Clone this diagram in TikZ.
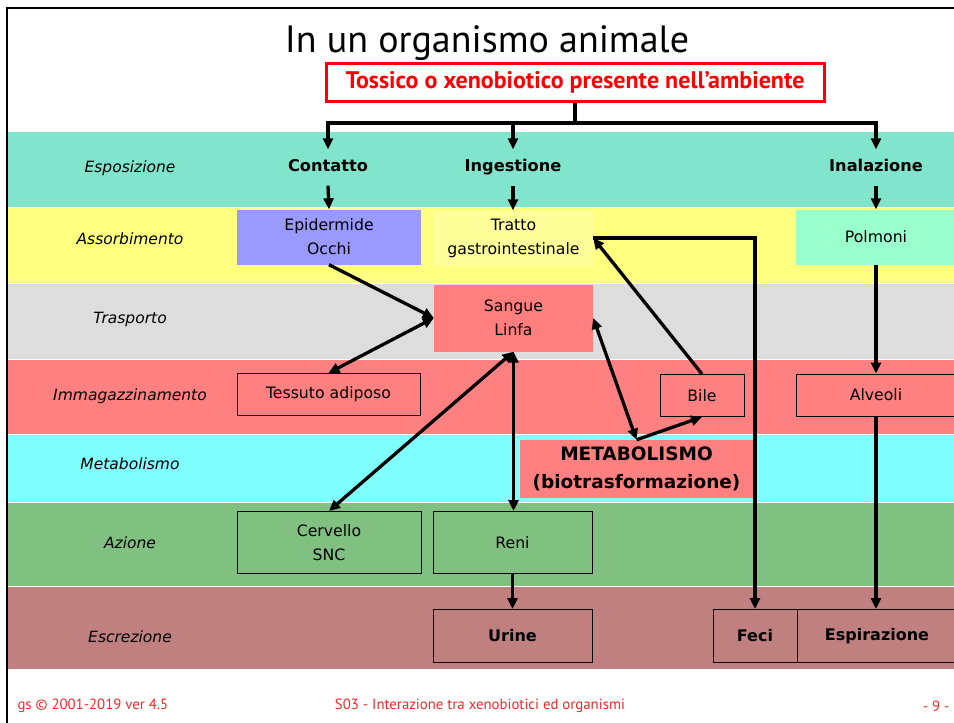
\documentclass[tikz,border=0pt]{standalone}
\usepackage{fontspec}
\setmainfont{DejaVu Sans}
\newfontfamily\narrowsans{PT Sans}
\usetikzlibrary{arrows.meta}

% band colours
\definecolor{cEsp}{RGB}{128,229,204}
\definecolor{cAss}{RGB}{255,255,128}
\definecolor{cTra}{RGB}{221,221,221}
\definecolor{cImm}{RGB}{255,128,128}
\definecolor{cMet}{RGB}{128,255,255}
\definecolor{cAzi}{RGB}{128,192,128}
\definecolor{cEsc}{RGB}{192,128,128}
% box colours
\definecolor{cEpi}{RGB}{153,153,255}
\definecolor{cGas}{RGB}{255,255,153}
\definecolor{cPol}{RGB}{153,255,204}
\definecolor{cSan}{RGB}{255,126,126}
\definecolor{cFoot}{RGB}{240,40,40}

\begin{document}
\begin{tikzpicture}[x=1pt,y=-1pt,
  band/.style={fill=#1, draw=none},
  phase/.style={font=\fontsize{15.5}{18}\selectfont\itshape, anchor=center},
  route/.style={font=\fontsize{16.2}{18}\selectfont\bfseries, minimum height=36pt, inner sep=0pt,
                text height=12pt, text depth=3.5pt},
  plain/.style={font=\fontsize{15.7}{24}\selectfont, align=center, inner sep=0pt},
  flat/.style={plain, draw=none},
  framed/.style={plain, draw=black, line width=1pt},
  boldframed/.style={framed, font=\fontsize{16}{24}\selectfont\bfseries},
  conn/.style={line width=3.3pt, -{Triangle[length=11pt,width=10pt]}},
  biconn/.style={line width=3.3pt, {Triangle[length=11pt,width=10pt]}-{Triangle[length=11pt,width=10pt]}},
  bus/.style={line width=3.3pt},
  foot/.style={font=\narrowsans\fontsize{14.8}{17}\selectfont, text=cFoot}
]
\useasboundingbox (0,0) rectangle (954,723);
\clip (0,0) rectangle (954,723);

% horizontal bands
\fill[band=cEsp] (8,132) rectangle (954,207);
\fill[band=cAss] (8,208) rectangle (954,283);
\fill[band=cTra] (8,284) rectangle (954,359);
\fill[band=cImm] (8,360) rectangle (954,434);
\fill[band=cMet] (8,435) rectangle (954,502);
\fill[band=cAzi] (8,503) rectangle (954,586);
\fill[band=cEsc] (8,587) rectangle (954,669);

% slide frame
\draw[line width=2.4pt] (7,723) -- (7,8) -- (960,8);

% title
\node (title) at (487,43) {\narrowsans\fontsize{38}{44}\selectfont In un organismo animale};

% source box
\node[draw=red, line width=3pt, minimum width=498pt, minimum height=38pt, inner sep=0pt,
      text=red, font=\narrowsans\bfseries\fontsize{24}{26}\selectfont] (tox) at (575,82)
  {Tossico o xenobiotico presente nell’ambiente};

% phase labels
\node[phase] (lEsp) at (130,168) {Esposizione};
\node[phase] (lAss) at (130,239) {Assorbimento};
\node[phase] (lTra) at (130,319) {Trasporto};
\node[phase] (lImm) at (130,396) {Immagazzinamento};
\node[phase] (lMet) at (130,464) {Metabolismo};
\node[phase] (lAzi) at (130,543) {Azione};
\node[phase] (lEsc) at (130,637) {Escrezione};

% exposure routes
\node[route] (contatto) at (328,167.5) {Contatto};
\node[route] (ingestione) at (513,167.5) {Ingestione};
\node[route] (inalazione) at (876,167.5) {Inalazione};

% absorption
\node[flat, fill=cEpi, minimum width=184pt, minimum height=55pt] (epi) at (329,237) {Epidermide\\Occhi};
\node[flat, fill=cGas, minimum width=159pt, minimum height=55pt] (gas) at (513.5,238) {Tratto\\gastrointestinale};
\node[flat, fill=cPol, minimum width=160pt, minimum height=55pt] (pol) at (876,237) {Polmoni};

% transport
\node[flat, fill=cSan, minimum width=159pt, minimum height=67pt] (san) at (513.5,318) {Sangue\\Linfa};

% storage
\node[framed, fill=cImm, minimum width=183pt, minimum height=42pt] (adi) at (328.5,394.5) {Tessuto adiposo};
\node[framed, fill=cImm, minimum width=84pt, minimum height=42pt] (bile) at (702,395.5) {Bile};
\node[framed, fill=cImm, minimum width=160pt, minimum height=42pt] (alv) at (876,395) {Alveoli};

% metabolism
\node[flat, fill=cImm, minimum width=233pt, minimum height=58pt,
      font=\fontsize{18.5}{28}\selectfont\bfseries] (met) at (636.5,469) {METABOLISMO\\(biotrasformazione)};

% action
\node[framed, fill=cAzi, minimum width=184pt, minimum height=62pt] (snc) at (329,542.5) {Cervello\\SNC};
\node[framed, fill=cAzi, minimum width=159pt, minimum height=62pt] (reni) at (512.5,542.5) {Reni};

% excretion
\node[boldframed, fill=cEsc, minimum width=159pt, minimum height=53pt] (urine) at (512.5,636) {Urine};
\node[boldframed, fill=cEsc, minimum width=84pt, minimum height=53pt] (feci) at (755,636) {Feci};
\node[boldframed, fill=cEsc, minimum width=160pt, minimum height=53pt] (espi) at (877,636) {Espirazione};

% distribution bus from the source
\coordinate (busc) at (575,123);
\draw[bus] (tox.south) -- (busc);
\draw[conn] (busc) -| (contatto.north);
\draw[conn] (busc) -| (ingestione.north);
\draw[conn] (busc) -| (inalazione.north);

% routes into the absorption sites
\draw[conn] (contatto.south) -- (epi.north);
\draw[conn] (ingestione.south) -- (ingestione.south |- gas.north);
\draw[conn] (inalazione.south) -- (pol.north);

% transport and distribution
\draw[conn] (epi.south) -- (san.west);
\draw[biconn] (adi.north) -- (san.west);
\draw[biconn] (snc.north) -- (san.south);
\draw[biconn] (san.south) -- (san.south |- reni.north);
\draw[biconn] (san.east) -- (met.north);
\draw[conn] (met.north) -- (bile.south);
\draw[conn] (bile.north) -- (gas.east);
\draw[conn] (gas.east) -| (feci.north);

% lungs
\draw[conn] (pol.south) -- (alv.north);
\draw[conn] (alv.south) -- (alv.south |- espi.north);

% kidneys
\draw[conn] (reni.south) -- (reni.south |- urine.north);

% footer
\node[foot, anchor=west] (f1) at (14,706) {gs © 2001-2019 ver 4.5};
\node[foot] (f2) at (480,706) {S03 - Interazione tra xenobiotici ed organismi};
\node[foot, anchor=east] (f3) at (953,706) {- 9 -};
\end{tikzpicture}
\end{document}
